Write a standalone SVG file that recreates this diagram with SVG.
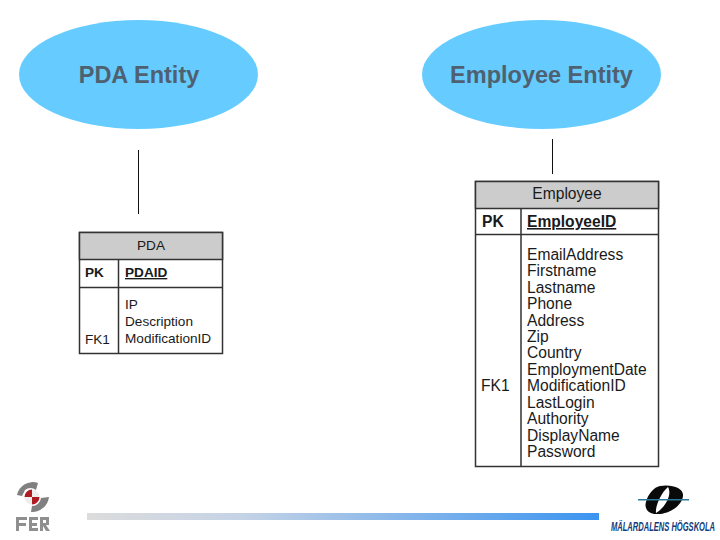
<svg xmlns="http://www.w3.org/2000/svg" width="720" height="540" viewBox="0 0 720 540">
<defs>
<linearGradient id="bar" x1="0" x2="1" y1="0" y2="0"><stop offset="0" stop-color="#dcdcdc"/><stop offset="0.3" stop-color="#c5d3e6"/><stop offset="1" stop-color="#3b94f0"/></linearGradient>
<filter id="soft" x="-10%" y="-10%" width="120%" height="120%"><feGaussianBlur stdDeviation="0.5"/></filter>
</defs>
<style>
text{font-family:"Liberation Sans",Arial,sans-serif;fill:#1a1a1a}
.ell{fill:#66ccff}
.et{font-size:23.500px;font-weight:bold;fill:#4f6070;text-anchor:middle}
.box{fill:#fff;stroke:#333;stroke-width:1.5}
.hd{fill:#cccccc;stroke:#333;stroke-width:1.5}
.ln{stroke:#333;stroke-width:1.5;fill:none}
.conn{stroke:#111;stroke-width:1;fill:none}
.a{font-size:13.6px}
.b{font-size:15.6px}
.k{font-weight:bold}
.u{text-decoration:underline}
</style>
<rect width="720" height="540" fill="#fff"/>
<g id="pda-entity"><ellipse class="ell" cx="138.500" cy="74.500" rx="119.500" ry="54.500"/><text class="et" x="139" y="83">PDA Entity</text></g>
<g id="employee-entity"><ellipse class="ell" cx="541.500" cy="74.500" rx="119.500" ry="54.500"/><text class="et" x="541.500" y="83">Employee Entity</text></g>
<g id="connectors"><path class="conn" d="M138.500 150V214"/><path class="conn" d="M552.500 139V174"/></g>
<g id="pda-table">
<rect class="box" x="79.500" y="232.500" width="143" height="121"/>
<rect class="hd" x="79.500" y="232.500" width="143" height="27"/>
<path class="ln" d="M79.500 287.500H222.500M118.500 259.500V353.500"/>
<text class="a" x="151" y="250" text-anchor="middle">PDA</text>
<text class="a k" x="85" y="277">PK</text>
<text class="a k u" x="125" y="277">PDAID</text>
<text class="a" x="125" y="309">IP</text>
<text class="a" x="125" y="326">Description</text>
<text class="a" x="125" y="343">ModificationID</text>
<text class="a" x="85" y="344">FK1</text>
</g>
<g id="employee-table">
<rect class="box" x="475.500" y="181.500" width="183" height="285"/>
<rect class="hd" x="475.500" y="181.500" width="183" height="27"/>
<path class="ln" d="M475.500 234.500H658.500M521 208.500V466.500"/>
<text class="b" x="567" y="199" text-anchor="middle">Employee</text>
<text class="b k" x="482" y="227">PK</text>
<text class="b k u" x="527" y="227">EmployeeID</text>
<text class="b" x="527" y="260">EmailAddress</text>
<text class="b" x="527" y="276">Firstname</text>
<text class="b" x="527" y="293">Lastname</text>
<text class="b" x="527" y="309">Phone</text>
<text class="b" x="527" y="326">Address</text>
<text class="b" x="527" y="342">Zip</text>
<text class="b" x="527" y="358">Country</text>
<text class="b" x="527" y="375">EmploymentDate</text>
<text class="b" x="527" y="391">ModificationID</text>
<text class="b" x="527" y="408">LastLogin</text>
<text class="b" x="527" y="424">Authority</text>
<text class="b" x="527" y="441">DisplayName</text>
<text class="b" x="527" y="457">Password</text>
<text class="b" x="481" y="391">FK1</text>
</g>
<rect x="87" y="513" width="512" height="7" fill="url(#bar)"/>
<g id="fer-logo">
<g filter="url(#soft)">
<path d="M17 495A16 16 0 0 1 38 483L36 490A9 9 0 0 0 25 490L22 496Z" fill="#808080"/>
<path d="M49 497A17 17 0 0 1 31 512L32 506A9 9 0 0 0 41 498Z" fill="#808080"/>
<circle cx="32" cy="497" r="7.500" fill="#eee"/>
<path d="M32 489.500A7.500 7.500 0 0 0 24.500 497H32ZM32 497V504.500A7.500 7.500 0 0 0 39.500 497Z" fill="#b01c24"/>
<path d="M16 517H27V520H19V523H26V526H19V531H16ZM29 517H38V520H32V523H37V526H32V528H38V531H29ZM40 517H49V525H46L50 531H46L43 526V531H40ZM43 520V523H46V520Z" fill="#8f8f8f"/>
</g>
</g>
<g id="mdh-logo">
<path d="M660 486C672 484 684 488 683 496C682 506 668 515 656 514C648 514 644 508 646 502C648 494 654 487 660 486Z" fill="#0a0a0a"/>
<path d="M668 487C662 492 655 505 656 513C663 509 673 496 668 487Z" fill="#fff"/>
<rect x="638" y="499" width="51" height="1.500" fill="#2a7a9a"/>
<text transform="translate(611 531) scale(0.63 1)" x="0" y="0" style="font-size:12px;font-weight:bold;font-style:italic;fill:#123a7a">MÄLARDALENS HÖGSKOLA</text>
</g>
</svg>
